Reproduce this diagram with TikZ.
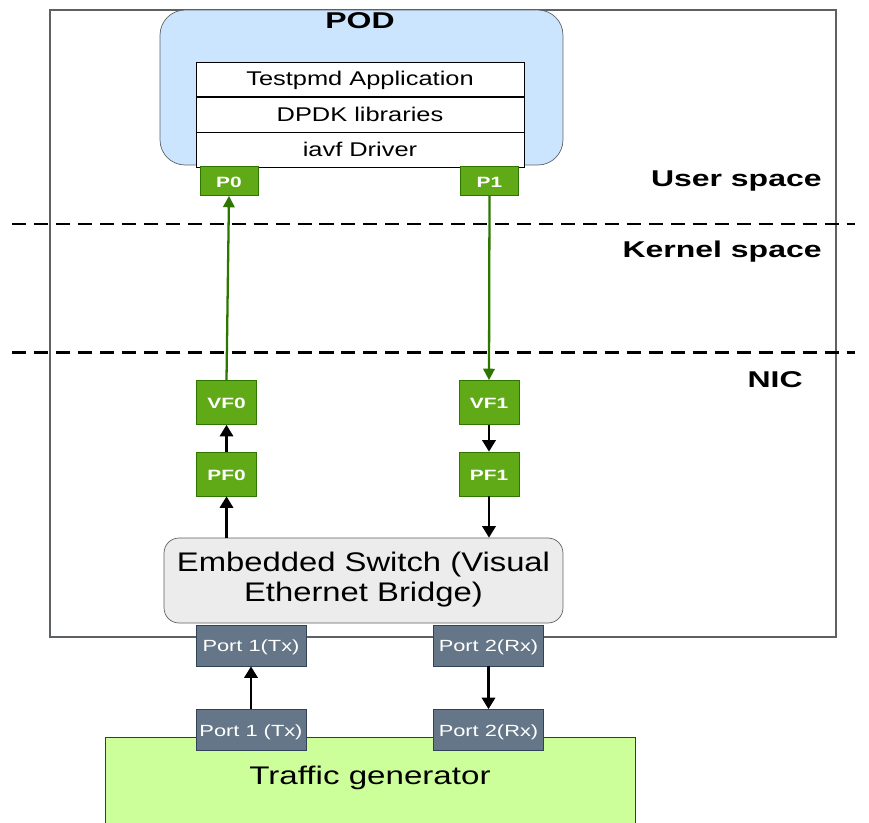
\documentclass[tikz,border=0pt]{standalone}
\usepackage{fontspec}
\setmainfont{Liberation Sans}
\usepackage{xcolor}
\usepackage{graphicx}
\usetikzlibrary{arrows.meta,positioning,calc}

\definecolor{podblue}{HTML}{CCE5FF}
\definecolor{vfgreen}{HTML}{60A917}
\definecolor{vfborder}{HTML}{2D7600}
\definecolor{portgray}{HTML}{647687}
\definecolor{portborder}{HTML}{314354}
\definecolor{genlime}{HTML}{CCFF99}
\definecolor{edgegray}{HTML}{36393D}

% text in the drawing is set a little wider than plain Arial
\newcommand{\wtext}[2][1.3]{\scalebox{#1}[1]{#2}}

\begin{document}
\begin{tikzpicture}[x=0.02cm,y=-0.02cm,
  capcenter/.style={text height=0.72em,text depth=0pt},
  greenbox/.style={capcenter,draw=vfborder,fill=vfgreen,text=white,font=\fontsize{8.5}{10}\selectfont\bfseries,
    minimum width=1.2cm,minimum height=0.88cm,inner sep=0pt},
  pbox/.style={greenbox,minimum width=1.16cm,minimum height=0.58cm},
  portbox/.style={capcenter,draw=portborder,fill=portgray,text=white,font=\fontsize{9.2}{11}\selectfont,
    minimum width=2.2cm,minimum height=0.82cm,inner sep=0pt},
  layerbox/.style={capcenter,draw=black,fill=white,font=\fontsize{11.3}{13}\selectfont,
    minimum width=6.56cm,minimum height=0.69cm,inner sep=0pt},
  spacelabel/.style={capcenter,anchor=east,inner sep=0pt,font=\fontsize{13}{15}\selectfont\bfseries},
  flow/.style={-{Triangle[width=7.5pt,length=6.5pt]},line width=1.4pt},
  greenflow/.style={flow,draw=vfborder,line width=1.3pt,-{Triangle[width=6.5pt,length=6.5pt]}},
]
\useasboundingbox (0,0) rectangle (869,822);

% Outer host frame
\draw[edgegray!80,line width=0.7pt] (50,10) rectangle (836,637);

% Traffic generator (runs off the bottom)
\node[draw=edgegray,fill=genlime,minimum width=10.6cm,minimum height=1.8cm,inner sep=0pt] (gen) at (370,782) {};
\node[capcenter,font=\fontsize{14.5}{17}\selectfont] (genlabel) at (370,778) {\wtext{Traffic generator}};

% POD with the software stack
\node[draw=edgegray!80,fill=podblue,rounded corners=0.5cm,minimum width=8.06cm,
  minimum height=3.1cm] (pod) at (361.5,87.5) {};
\node[capcenter,font=\fontsize{13}{15}\selectfont\bfseries] (podlabel) at (360,22) {\wtext[1.4]{POD}};
\node[layerbox] (app) at (360,79.5) {\wtext[1.28]{Testpmd Application}};
\node[layerbox,below=0pt of app] (dpdk) {\wtext[1.28]{DPDK libraries}};
\node[layerbox,below=0pt of dpdk] (iavf) {\wtext[1.28]{iavf Driver}};

% Ports of the POD
\node[pbox] (P0) at (229,181) {\wtext[1.4]{P0}};
\node[pbox] (P1) at (489.5,181) {\wtext[1.4]{P1}};

% Space boundaries
\draw[line width=1.7pt,dash pattern=on 8pt off 4.5pt] (12,224) -- (855,224);
\draw[line width=1.7pt,dash pattern=on 8pt off 4.5pt] (12,352) -- (855,352);
\node[spacelabel] (user) at (822,180) {\wtext[1.4]{User space}};
\node[spacelabel] (kernel) at (822,251) {\wtext[1.4]{Kernel space}};
\node[spacelabel] (nic) at (803,381) {\wtext[1.4]{NIC}};

% Virtual and physical functions
\node[greenbox] (VF0) at (226.5,402.5) {\wtext[1.4]{VF0}};
\node[greenbox] (VF1) at (489,402.5) {\wtext[1.4]{VF1}};
\node[greenbox] (PF0) at (226.5,474) {\wtext[1.4]{PF0}};
\node[greenbox] (PF1) at (489,474) {\wtext[1.4]{PF1}};

% Embedded switch
\node[draw=edgegray!80,fill=gray!15,rounded corners=0.3cm,minimum width=7.98cm,minimum height=1.7cm,
  inner sep=0pt,font=\fontsize{15.3}{17.3}\selectfont] (esw) at (363.5,580.5)
  {\raisebox{-1.6pt}{\wtext[1.22]{\begin{tabular}{@{}c@{}}Embedded Switch (Visual\\Ethernet Bridge)\end{tabular}}}};

% Physical ports
\node[portbox] (nic1) at (251,645.5) {\wtext[1.35]{Port 1(Tx)}};
\node[portbox] (nic2) at (488.5,645.5) {\wtext[1.35]{Port 2(Rx)}};
\node[portbox] (gen1) at (251,730) {\wtext[1.35]{Port 1 (Tx)}};
\node[portbox] (gen2) at (488.5,730) {\wtext[1.35]{Port 2(Rx)}};

% Packet path
\draw[flow] (gen1) -- (nic1);
\draw[flow] (esw.north -| PF0) -- (PF0);
\draw[flow] (PF0) -- (VF0);
\draw[greenflow] (VF0.north) -- (P0.south);
\draw[greenflow] (P1.south) -- (VF1.north);
\draw[flow] (VF1) -- (PF1);
\draw[flow] (PF1) -- (esw.north -| PF1);
\draw[flow] (nic2) -- (gen2);
\end{tikzpicture}
\end{document}
